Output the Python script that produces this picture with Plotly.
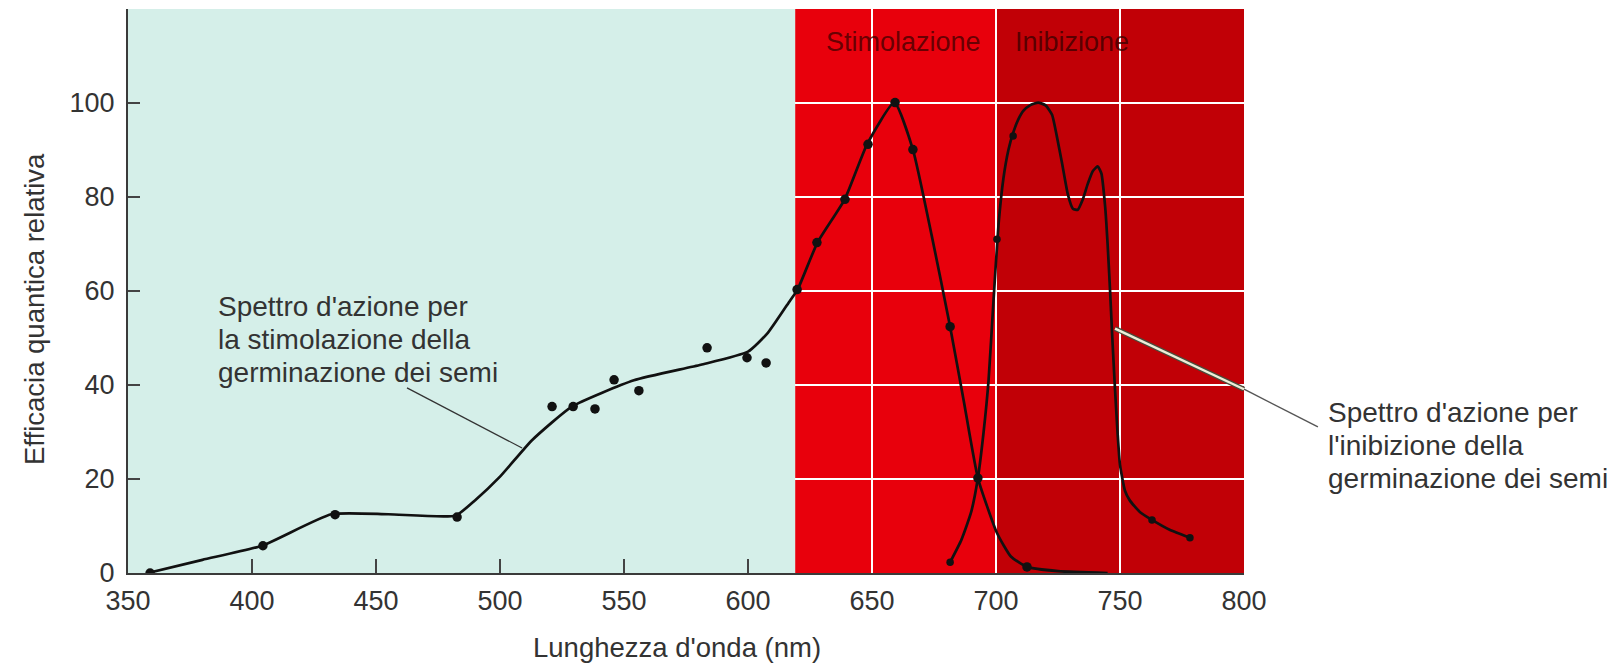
import plotly.graph_objects as go

# ---- data ----
# Stimulation action spectrum: smooth curve
stim_curve_x = [358, 380, 404, 432, 455, 482, 490, 500, 513, 529, 554, 581, 600, 608, 617, 620,
                628, 639, 648, 659, 666.5, 674, 681.5, 687, 692.7, 700.4, 706, 712.5, 725, 745]
stim_curve_y = [0, 2.8, 5.8, 12.5, 12.5, 12.2, 15.5, 20.5, 28.3, 35.4, 41, 44.3, 47.1, 51.1, 58, 60.3,
                70.3, 79.5, 91.2, 100.1, 90.1, 72, 52.4, 36.6, 20.2, 8.5, 3.5, 1.3, 0.4, 0]
# Stimulation measured points
stim_dots_x = [358.9, 404.4, 433.5, 482.7, 521, 529.5, 538.3, 546, 556, 583.5, 599.6, 607.3,
               619.8, 627.8, 639.1, 648.4, 659.3, 666.5, 681.5, 692.7, 712.5]
stim_dots_y = [0, 5.8, 12.4, 11.9, 35.4, 35.4, 34.9, 41.1, 38.8, 47.9, 45.8, 44.7,
               60.3, 70.3, 79.5, 91.2, 100.1, 90.1, 52.4, 20.2, 1.3]

# Inhibition action spectrum: smooth curve
inhib_curve_x = [681.5, 686, 690, 692.7, 695, 697, 699, 701, 703, 705, 707, 709, 711, 714, 717,
                 720, 722.6, 724.5, 726.6, 729, 731, 733, 735, 737, 739, 741, 742.5, 744, 745,
                 746, 747, 748, 749, 750, 752, 754, 758, 762.9, 770, 778.2]
inhib_curve_y = [2.3, 7, 13, 20.2, 30, 41, 58, 74, 84, 90, 93.8, 96.5, 98.3, 99.6, 100.1,
                 99.5, 97.5, 93, 87.3, 80.5, 77.5, 77.3, 79.5, 82.8, 85.5, 86.5, 85, 78, 70,
                 60, 49, 39, 30, 23, 17.5, 15.4, 13, 11.3, 9.2, 7.5]
inhib_dots_x = [681.5, 700.4, 706.9, 762.9, 778.2]
inhib_dots_y = [2.3, 71, 93, 11.3, 7.5]

# spectral regions (nm)
cyan_region = (350, 619, "#d5efe9")
red_regions = [(619, 700, "#e8000c"), (700, 800, "#c10006")]

x_ticks = [350, 400, 450, 500, 550, 600, 650, 700, 750, 800]
x_marks = [400, 450, 500, 550, 600]
y_ticks = [0, 20, 40, 60, 80, 100, 120]
y_ticktext = ["0", "20", "40", "60", "80", "100", ""]

X0, X1, Y0, Y1 = 350, 800, 0, 120
FONT = "Liberation Sans, Arial, Helvetica, sans-serif"
TXT = "#333333"

W, H = 1617, 663
PL, PR, PT, PB = 128, 1244, 9, 573   # plot box in window pixels


def px(x):
    return (x - X0) / (X1 - X0)


def py(y):
    return (y - Y0) / (Y1 - Y0)


fig = go.Figure()

line_style = dict(color="#111111", width=2.7, shape="spline", smoothing=0.5)
fig.add_trace(go.Scatter(x=stim_curve_x, y=stim_curve_y, mode="lines", line=line_style,
                         hoverinfo="skip", showlegend=False))
fig.add_trace(go.Scatter(x=inhib_curve_x, y=inhib_curve_y, mode="lines", line=line_style,
                         hoverinfo="skip", showlegend=False))
fig.add_trace(go.Scatter(x=stim_dots_x, y=stim_dots_y, mode="markers",
                         marker=dict(color="#111111", size=9.5), showlegend=False))
fig.add_trace(go.Scatter(x=inhib_dots_x, y=inhib_dots_y, mode="markers",
                         marker=dict(color="#111111", size=7.5), showlegend=False))
# invisible trace on overlay axis carrying the inside tick marks of the light region
fig.add_trace(go.Scatter(x=[X0], y=[Y0], xaxis="x2", mode="markers",
                         marker=dict(opacity=0), hoverinfo="skip", showlegend=False))

shapes = []
for a, b, c in red_regions:
    shapes.append(dict(type="rect", xref="x", yref="y", x0=a, x1=b, y0=Y0, y1=Y1,
                       fillcolor=c, line=dict(width=0), layer="below"))
a, b, c = cyan_region
shapes.append(dict(type="rect", xref="x", yref="y", x0=a, x1=b, y0=Y0, y1=Y1,
                   fillcolor=c, line=dict(width=0), layer="between"))

# left leader line
shapes.append(dict(type="line", xref="x", yref="y", x0=462.5, y0=39.4, x1=508.9, y1=26.6,
                   line=dict(color="#333333", width=1.3)))
# right leader line: thin part outside, double (light) part inside the plot
r_start = (748, 52)
r_edge = (800, 39.1)
r_end = (829.8, 31.1)
shapes.append(dict(type="line", xref="paper", yref="paper",
                   x0=px(r_edge[0]), y0=py(r_edge[1]), x1=px(r_end[0]), y1=py(r_end[1]),
                   line=dict(color="#555555", width=1.4)))
shapes.append(dict(type="line", xref="paper", yref="paper",
                   x0=px(r_start[0]), y0=py(r_start[1]), x1=px(r_edge[0]), y1=py(r_edge[1]),
                   line=dict(color="#4a4a3a", width=5)))
shapes.append(dict(type="line", xref="paper", yref="paper",
                   x0=px(r_start[0]), y0=py(r_start[1]), x1=px(r_edge[0]), y1=py(r_edge[1]),
                   line=dict(color="#eeeed8", width=2.4)))

ph = PB - PT
pw = PR - PL
annotations = []
left_lines = ["Spettro d'azione per", "la stimolazione della", "germinazione dei semi"]
for i, t in enumerate(left_lines):
    annotations.append(dict(text=t, xref="paper", yref="paper", x=(216 - PL) / pw,
                            y=(PB - (306 + 33 * i)) / ph,
                            xanchor="left", yanchor="middle", showarrow=False,
                            font=dict(family=FONT, size=28, color=TXT)))
right_lines = ["Spettro d'azione per", "l'inibizione della", "germinazione dei semi"]
for i, t in enumerate(right_lines):
    annotations.append(dict(text=t, xref="paper", yref="paper", x=(1326 - PL) / pw,
                            y=(PB - (412 + 33 * i)) / ph,
                            xanchor="left", yanchor="middle", showarrow=False,
                            font=dict(family=FONT, size=28, color=TXT)))
annotations.append(dict(text="Stimolazione", xref="x", yref="y", x=662.5, y=113, showarrow=False,
                        xanchor="center", yanchor="middle",
                        font=dict(family=FONT, size=27, color="rgba(70,0,0,0.8)")))
annotations.append(dict(text="Inibizione", xref="x", yref="y", x=730.6, y=113, showarrow=False,
                        xanchor="center", yanchor="middle",
                        font=dict(family=FONT, size=27, color="rgba(60,0,0,0.8)")))
annotations.append(dict(text="Lunghezza d'onda (nm)", xref="paper", yref="paper",
                        x=(677 - PL) / pw, y=0, yshift=-74, showarrow=False,
                        xanchor="center", yanchor="middle",
                        font=dict(family=FONT, size=27.5, color=TXT)))
annotations.append(dict(text="Efficacia quantica relativa", xref="paper", yref="paper",
                        x=0, xshift=-94, y=(PB - 309) / ph, showarrow=False, textangle=-90,
                        xanchor="center", yanchor="middle",
                        font=dict(family=FONT, size=27.5, color=TXT)))

fig.update_layout(
    width=W, height=H,
    margin=dict(l=PL, r=W - PR, t=PT, b=H - PB),
    paper_bgcolor="white", plot_bgcolor="white",
    shapes=shapes, annotations=annotations,
    font=dict(family=FONT, size=27, color=TXT),
    xaxis=dict(range=[X0, X1], tickvals=x_ticks, ticks="", showline=True,
               linecolor="#3a3a3a", linewidth=2,
               showgrid=True, gridcolor="white", gridwidth=2, zeroline=False,
               tickfont=dict(family=FONT, size=27, color=TXT), ticklabelstandoff=3),
    xaxis2=dict(range=[X0, X1], overlaying="x", side="bottom", tickvals=x_marks,
                ticks="inside", ticklen=14, tickwidth=1.5, tickcolor="#444444",
                showticklabels=False, showgrid=False, zeroline=False, showline=False),
    yaxis=dict(range=[Y0, Y1], tickvals=y_ticks, ticktext=y_ticktext, ticks="inside", ticklen=12,
               tickwidth=1.5, tickcolor="#444444", showline=True, linecolor="#3a3a3a", linewidth=2,
               showgrid=True, gridcolor="white", gridwidth=2, zeroline=False,
               tickfont=dict(family=FONT, size=27, color=TXT), ticklabelstandoff=6),
)

fig.write_html("out.html", config={"displayModeBar": False},
               post_script="document.body.style.margin='0';document.body.style.overflow='hidden';")
